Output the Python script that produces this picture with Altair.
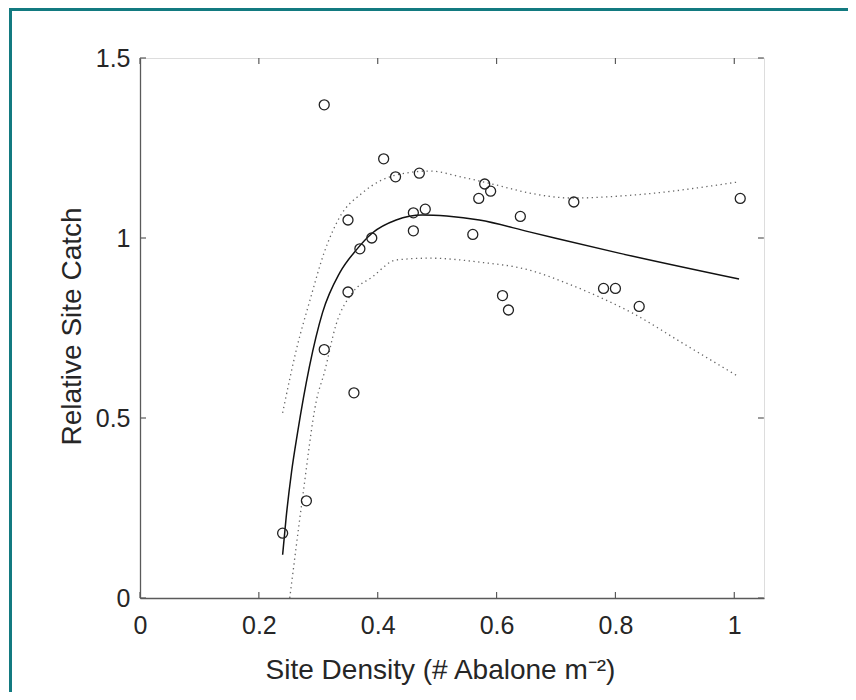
import altair as alt
import pandas as pd

# Observed sites
DENSITY = [0.24, 0.28, 0.31, 0.31, 0.35, 0.35, 0.36, 0.37, 0.39, 0.41, 0.43, 0.46, 0.46, 0.47,
           0.48, 0.56, 0.57, 0.58, 0.59, 0.61, 0.62, 0.64, 0.73, 0.78, 0.80, 0.84, 1.01]
CATCH = [0.18, 0.27, 0.69, 1.37, 1.05, 0.85, 0.57, 0.97, 1.00, 1.22, 1.17, 1.07, 1.02, 1.18,
         1.08, 1.01, 1.11, 1.15, 1.13, 0.84, 0.80, 1.06, 1.10, 0.86, 0.86, 0.81, 1.11]

# Fitted curve
FIT_X = [0.240, 0.246, 0.255, 0.265, 0.285, 0.307, 0.336, 0.364, 0.391, 0.431, 0.475, 0.516,
         0.571, 0.655, 0.806, 1.008]
FIT_Y = [0.120, 0.225, 0.350, 0.458, 0.642, 0.792, 0.903, 0.967, 1.014, 1.050, 1.064, 1.061,
         1.050, 1.017, 0.958, 0.886]

# Upper confidence bound
UP_X = [0.240, 0.263, 0.287, 0.310, 0.336, 0.374, 0.431, 0.487, 0.542, 0.600, 0.655, 0.727,
        0.828, 1.008]
UP_Y = [0.514, 0.689, 0.833, 0.960, 1.058, 1.125, 1.175, 1.186, 1.169, 1.147, 1.125, 1.111,
        1.119, 1.156]

# Lower confidence bound
LO_X = [0.252, 0.273, 0.297, 0.310, 0.330, 0.357, 0.391, 0.431, 0.487, 0.571, 0.655, 0.717,
        0.773, 0.828, 0.913, 1.008]
LO_Y = [0.000, 0.272, 0.550, 0.625, 0.760, 0.847, 0.892, 0.939, 0.944, 0.933, 0.911, 0.875,
        0.836, 0.792, 0.708, 0.614]

X_TICKS = [0, 0.2, 0.4, 0.6, 0.8, 1.0]
Y_TICKS = [0, 0.5, 1.0, 1.5]

W, H = 624, 540
FONT = "Liberation Sans"
AXIS_COL = "#5a5a5a"
TEXT_COL = "#262626"

pts = pd.DataFrame({"x": DENSITY, "y": CATCH})
fit = pd.DataFrame({"x": FIT_X, "y": FIT_Y})
up = pd.DataFrame({"x": UP_X, "y": UP_Y})
lo = pd.DataFrame({"x": LO_X, "y": LO_Y})
xt = pd.DataFrame({"x": X_TICKS})
yt = pd.DataFrame({"y": Y_TICKS})

xscale = alt.Scale(domain=[0, 1.05], nice=False, zero=False)
yscale = alt.Scale(domain=[0, 1.5], nice=False, zero=False)

LABEL_EXPR = "datum.value == 0 ? '0' : datum.value == 1 ? '1' : format(datum.value, '.1f')"

xaxis = alt.Axis(values=X_TICKS, title="Site Density (# Abalone m\u207b\u00b2)", tickSize=0,
                 labelPadding=15, grid=False, domainColor=AXIS_COL, domainWidth=1.3,
                 labelFontSize=25, titleFontSize=28, labelFont=FONT, titleFont=FONT,
                 labelColor=TEXT_COL, titleColor=TEXT_COL, titleFontWeight="normal",
                 titleBaseline="middle", titleAlign="center", titleX=300, titleY=72,
                 labelFlush=False, labelExpr=LABEL_EXPR)
yaxis = alt.Axis(values=Y_TICKS, title="Relative Site Catch", tickSize=0,
                 labelPadding=10, grid=False, domainColor=AXIS_COL, domainWidth=1.3,
                 labelFontSize=25, titleFontSize=28, labelFont=FONT, titleFont=FONT,
                 labelColor=TEXT_COL, titleColor=TEXT_COL, titleFontWeight="normal",
                 titleBaseline="middle", titleAlign="center", titleX=-68, titleY=H / 2 - 2,
                 titleAngle=270, labelFlush=False, labelExpr=LABEL_EXPR)

scatter = alt.Chart(pts).mark_point(shape="circle", filled=False, color="#222222",
                                    strokeWidth=1.3, size=100, opacity=1).encode(
    x=alt.X("x:Q", scale=xscale, axis=xaxis),
    y=alt.Y("y:Q", scale=yscale, axis=yaxis),
)

fit_line = alt.Chart(fit).mark_line(color="#111111", strokeWidth=1.5, interpolate="monotone").encode(
    x=alt.X("x:Q", scale=xscale), y=alt.Y("y:Q", scale=yscale))
up_line = alt.Chart(up).mark_line(color="#666666", strokeWidth=1.3, strokeDash=[1.3, 3.5],
                                  interpolate="monotone").encode(
    x=alt.X("x:Q", scale=xscale), y=alt.Y("y:Q", scale=yscale))
lo_line = alt.Chart(lo).mark_line(color="#666666", strokeWidth=1.3, strokeDash=[1.3, 3.5],
                                  interpolate="monotone").encode(
    x=alt.X("x:Q", scale=xscale), y=alt.Y("y:Q", scale=yscale))

TL = 6
tick_bottom = alt.Chart(xt).mark_rule(color=AXIS_COL, strokeWidth=1.2).encode(
    x=alt.X("x:Q", scale=xscale), y=alt.value(H), y2=alt.value(H - TL))
tick_top = alt.Chart(xt).mark_rule(color=AXIS_COL, strokeWidth=1.2).encode(
    x=alt.X("x:Q", scale=xscale), y=alt.value(0), y2=alt.value(TL))
tick_left = alt.Chart(yt).mark_rule(color=AXIS_COL, strokeWidth=1.2).encode(
    y=alt.Y("y:Q", scale=yscale), x=alt.value(0), x2=alt.value(TL))
tick_right = alt.Chart(yt).mark_rule(color=AXIS_COL, strokeWidth=1.2).encode(
    y=alt.Y("y:Q", scale=yscale), x=alt.value(W), x2=alt.value(W - TL))

PAD_L, PAD_T = 132, 50
border_left = alt.Chart(pts).mark_rule(color="#137a80", strokeWidth=3, clip=False).encode(
    x=alt.value(-PAD_L + 2.5), x2=alt.value(-PAD_L + 2.5),
    y=alt.value(-PAD_T + 0.5), y2=alt.value(H + 200))
border_top = alt.Chart(pts).mark_rule(color="#137a80", strokeWidth=3, clip=False).encode(
    y=alt.value(-PAD_T + 1.0), y2=alt.value(-PAD_T + 1.0),
    x=alt.value(-PAD_L + 1), x2=alt.value(W + 200))

chart = alt.layer(
    border_left, border_top,
    up_line, lo_line, fit_line,
    tick_bottom, tick_top, tick_left, tick_right,
    scatter,
).properties(
    width=W, height=H,
    autosize=alt.AutoSizeParams(type="none"),
    padding={"left": PAD_L, "top": PAD_T, "right": 84, "bottom": 94},
).configure_view(
    stroke=AXIS_COL, strokeWidth=1.3
).configure(background="white")

chart.save("out.html", embed_options={"renderer": "svg", "actions": False})
